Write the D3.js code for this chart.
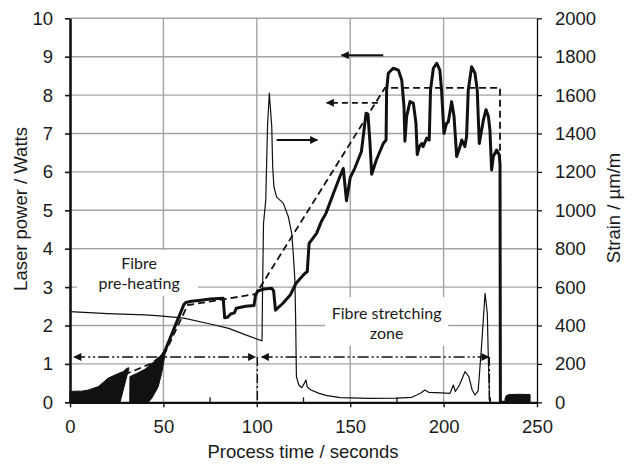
<!DOCTYPE html>
<html>
<head>
<meta charset="utf-8">
<script src="https://cdn.jsdelivr.net/npm/d3@7"></script>
<style>
  html, body { margin: 0; padding: 0; background: #fff; }
  svg { display: block; }
  .tick text { font-family: "Liberation Sans", Arial, sans-serif; font-size: 18.5px; fill: #1a1a1a; }
  .title { font-family: "Liberation Sans", Arial, sans-serif; font-size: 18.5px; fill: #1a1a1a; }
  .note { font-family: Lato, "Open Sans", sans-serif; font-size: 16px; fill: #1a1a1a; }
</style>
</head>
<body>
<div id="chart"></div>
<script>
// thin trace, read on the right axis (strain, µm/m)
const thinTime = [0, 20, 40, 48, 61, 75, 85, 94.4, 100, 102.8, 103.1, 103.6, 104.8, 105.3, 105.8, 106.7, 108, 108.5, 109.2, 110.6, 114.2, 116.9, 118.7, 119.5, 120.4, 120.8, 121.2, 122.5, 124, 125.5, 126.3, 127, 129, 133, 137, 144.5, 160, 175, 183, 185.6, 188, 190, 192, 196, 203.4, 205.2, 206.3, 208.5, 211.5, 213.5, 215.3, 216.8, 218.5, 220.3, 222.2, 223.4, 224, 224.6, 225];
const thinStrain = [472, 462, 455, 450, 438, 408, 385, 350, 330, 320, 600, 932, 1054, 1260, 1454, 1610, 1436, 1228, 1120, 1070, 1036, 966, 880, 776, 636, 428, 134, 90, 76, 100, 116, 80, 64, 48, 36, 24, 20, 22, 26, 38, 50, 64, 52, 50, 46, 90, 56, 90, 160, 134, 64, 38, 60, 290, 568, 464, 204, 12, 0];

// thick trace, laser power measured (W)
const powerTime = [50.5, 61, 62, 65, 70, 75, 82, 82.8, 84.5, 86, 88, 89, 94, 98.5, 99.3, 100.5, 104, 108, 109, 110, 114, 118, 121, 125.8, 127, 128, 132, 134.5, 137, 141, 144.5, 146.3, 148, 150, 152.5, 156, 158.5, 159.5, 160.5, 161.5, 164, 167.7, 169.2, 169.5, 170.4, 173, 175.8, 177.6, 178.8, 179.3, 180.2, 182, 183.8, 185.2, 185.9, 187, 188.3, 189, 191, 192.3, 193, 194.5, 196.3, 198, 198.9, 200.2, 201.6, 202.5, 204.3, 205.6, 207, 208.8, 209.7, 211.4, 212.3, 213.2, 215, 216.8, 218, 219.1, 221.3, 222.7, 224, 224.8, 225.7, 226.6, 228.4, 229.8, 230.2, 230.4, 232.9];
const powerWatts = [1.3, 2.55, 2.6, 2.63, 2.66, 2.69, 2.71, 2.2, 2.22, 2.3, 2.33, 2.45, 2.5, 2.52, 2.78, 2.9, 2.95, 2.97, 2.9, 2.4, 2.58, 2.8, 3.1, 3.36, 3.4, 4.14, 4.4, 4.7, 4.92, 5.44, 5.88, 6.09, 5.25, 5.85, 6.1, 6.53, 7.53, 7.5, 6.83, 5.94, 6.31, 6.74, 6.83, 8.13, 8.57, 8.7, 8.65, 8.39, 7.7, 6.8, 7.44, 7.83, 7.79, 7.27, 6.45, 6.66, 6.74, 6.66, 6.88, 6.83, 8.13, 8.7, 8.83, 8.65, 8.13, 7.0, 7.27, 7.3, 7.83, 7.44, 6.4, 6.66, 6.83, 6.66, 6.92, 8.13, 8.74, 8.57, 8.13, 6.74, 7.35, 7.62, 7.44, 7.09, 6.05, 6.4, 6.57, 6.44, 6.2, 0, 0];

// noisy parts of the power trace, drawn as envelopes (W)
const band1Time = [0, 3, 6.2, 9.8, 15.2, 20.5, 25.9, 26.8, 28.5, 30.3, 31.5];
const band1Low = [0, 0, 0, 0, 0, 0, 0, 0, 0.32, 0.66, 0.87];
const band1High = [0.28, 0.29, 0.29, 0.32, 0.41, 0.63, 0.75, 0.77, 0.8, 0.88, 0.9];
const band2Time = [32, 32.1, 35.7, 40.1, 41.9, 43.7, 46.3, 47.3, 49, 50, 51];
const band2Low = [0, 0, 0, 0, 0, 0.1, 0.32, 0.42, 0.75, 1.0, 1.3];
const band2High = [0, 0.67, 0.75, 0.86, 0.93, 1.01, 1.1, 1.14, 1.25, 1.32, 1.33];
const band3Time = [232.9, 233.5, 235, 240, 246.3];
const band3Low = [0, 0, 0, 0, 0];
const band3High = [0.1, 0.17, 0.2, 0.21, 0.2];

// dashed trace, laser power set point (W)
const setTime = [29, 33, 44, 51, 63, 99.5, 168.6, 230.2, 230.2];
const setWatts = [0.72, 0.8, 1.02, 1.3, 2.53, 2.82, 8.19, 8.19, 0];

const xTicks = [0, 50, 100, 150, 200, 250];
const xMinorTicks = [25, 75, 125, 175, 225];
const leftTicks = [0, 1, 2, 3, 4, 5, 6, 7, 8, 9, 10];
const rightTicks = [0, 200, 400, 600, 800, 1000, 1200, 1400, 1600, 1800, 2000];

const zones = [
  {lines: ["Fibre", "pre-heating"], t: 37, v: [3.62, 3.1], box: [3.7, 68.5, 2.77, 3.97]},
  {lines: ["Fibre stretching", "zone"], t: 169.5, v: [2.32, 1.8], box: [136.5, 202.4, 1.47, 2.74]}
];
// dash-dot range arrows [from, to, level], end markers [time, level]
const spanArrows = [[2.2, 99.2, 1.18], [102.6, 224.1, 1.18]];
const spanEnds = [[100.3, 1.18], [224.5, 1.18]];
// series pointers [from, to, level, dashed]
const pointers = [[110.6, 132.4, 6.83, false], [167.7, 145.4, 9.04, false], [164.8, 137.4, 7.8, true]];

const W = 636, H = 464;
const x = d3.scaleLinear().domain([0, 250]).range([70, 537]);
const yL = d3.scaleLinear().domain([0, 10]).range([402.3, 18.3]);
const yR = d3.scaleLinear().domain([0, 2000]).range([402.3, 18.3]);

const svg = d3.select("#chart").append("svg")
  .attr("width", W)
  .attr("height", H);

const defs = svg.append("defs");
defs.append("marker")
  .attr("id", "head")
  .attr("viewBox", "0 0 10 10")
  .attr("refX", 9).attr("refY", 5)
  .attr("markerWidth", 10).attr("markerHeight", 8)
  .attr("markerUnits", "userSpaceOnUse")
  .attr("orient", "auto-start-reverse")
  .append("path")
  .attr("d", "M0,0L10,5L0,10Z")
  .attr("fill", "#111");

// grid
svg.append("g")
  .selectAll("line")
  .data(leftTicks.slice(1))
  .enter().append("line")
  .attr("x1", x(0)).attr("x2", x(250))
  .attr("y1", d => yL(d)).attr("y2", d => yL(d))
  .attr("stroke", "#a3a3a3")
  .attr("stroke-width", 1.4);

svg.append("g")
  .selectAll("line")
  .data(xTicks.slice(1, -1))
  .enter().append("line")
  .attr("x1", d => x(d)).attr("x2", d => x(d))
  .attr("y1", yL(0)).attr("y2", yL(10))
  .attr("stroke", "#a3a3a3")
  .attr("stroke-width", 1.4);

// white boxes behind the zone labels
svg.append("g")
  .selectAll("rect")
  .data(zones)
  .enter().append("rect")
  .attr("x", d => x(d.box[0]))
  .attr("width", d => x(d.box[1]) - x(d.box[0]))
  .attr("y", d => yL(d.box[3]))
  .attr("height", d => yL(d.box[2]) - yL(d.box[3]))
  .attr("fill", "#fff");

// axes
svg.append("g")
  .attr("transform", `translate(${x(0)},0)`)
  .call(d3.axisLeft(yL).tickValues(leftTicks).tickSize(5).tickSizeOuter(0).tickPadding(12))
  .call(g => g.select(".domain").attr("stroke", "#111").attr("stroke-width", 2.6))
  .call(g => g.selectAll(".tick line").attr("stroke", "#111").attr("stroke-width", 1.6));

svg.append("g")
  .attr("transform", `translate(${x(250)},0)`)
  .call(d3.axisRight(yR).tickValues(rightTicks).tickFormat(d3.format("d")).tickSize(5).tickSizeOuter(0).tickPadding(13))
  .call(g => g.select(".domain").attr("stroke", "#111").attr("stroke-width", 1.3))
  .call(g => g.selectAll(".tick line").attr("stroke", "#111").attr("stroke-width", 1.3));

svg.append("g")
  .attr("transform", `translate(0,${yL(0)})`)
  .call(d3.axisBottom(x).tickValues(xTicks).tickSize(5).tickSizeOuter(0).tickPadding(12.5))
  .call(g => g.select(".domain").attr("stroke", "#111").attr("stroke-width", 2.2))
  .call(g => g.selectAll(".tick line").attr("stroke", "#111").attr("stroke-width", 1.4));

svg.append("g")
  .selectAll("line")
  .data(xMinorTicks)
  .enter().append("line")
  .attr("x1", d => x(d)).attr("x2", d => x(d))
  .attr("y1", yL(0)).attr("y2", yL(0) - 5)
  .attr("stroke", "#111")
  .attr("stroke-width", 1.3);

// data
const plot = svg.append("g");

const area = d3.area()
  .x(d => x(d[0]))
  .y0(d => yL(d[1]))
  .y1(d => yL(d[2]));

[[band1Time, band1Low, band1High], [band2Time, band2Low, band2High], [band3Time, band3Low, band3High]]
  .forEach(([t, lo, hi]) => {
    plot.append("path")
      .datum(t.map((d, i) => [d, lo[i], hi[i]]))
      .attr("d", area)
      .attr("fill", "#111")
      .attr("stroke", "#111")
      .attr("stroke-width", 1);
  });

const lineL = d3.line().x(d => x(d[0])).y(d => yL(d[1]));
const lineR = d3.line().x(d => x(d[0])).y(d => yR(d[1]));

plot.append("path")
  .datum(thinTime.map((d, i) => [d, thinStrain[i]]))
  .attr("d", lineR)
  .attr("fill", "none")
  .attr("stroke", "#111")
  .attr("stroke-width", 1.2)
  .attr("stroke-linejoin", "round");

plot.append("path")
  .datum(setTime.map((d, i) => [d, setWatts[i]]))
  .attr("d", lineL)
  .attr("fill", "none")
  .attr("stroke", "#111")
  .attr("stroke-width", 1.8)
  .attr("stroke-dasharray", "7,4");

plot.append("path")
  .datum(powerTime.map((d, i) => [d, powerWatts[i]]))
  .attr("d", lineL)
  .attr("fill", "none")
  .attr("stroke", "#111")
  .attr("stroke-width", 3)
  .attr("stroke-linejoin", "round");

// range arrows
svg.append("g")
  .selectAll("line")
  .data(spanArrows)
  .enter().append("line")
  .attr("x1", d => x(d[0])).attr("x2", d => x(d[1]))
  .attr("y1", d => yL(d[2])).attr("y2", d => yL(d[2]))
  .attr("stroke", "#111")
  .attr("stroke-width", 1.6)
  .attr("stroke-dasharray", "11,3,2,3,2,3")
  .attr("marker-start", "url(#head)")
  .attr("marker-end", "url(#head)");

svg.append("g")
  .selectAll("line")
  .data(spanEnds)
  .enter().append("line")
  .attr("x1", d => x(d[0])).attr("x2", d => x(d[0]))
  .attr("y1", d => yL(d[1])).attr("y2", yL(0))
  .attr("stroke", "#111")
  .attr("stroke-width", 1.4)
  .attr("stroke-dasharray", "9,3,2,3");

svg.append("g")
  .selectAll("line")
  .data(pointers)
  .enter().append("line")
  .attr("x1", d => x(d[0])).attr("x2", d => x(d[1]))
  .attr("y1", d => yL(d[2])).attr("y2", d => yL(d[2]))
  .attr("stroke", "#111")
  .attr("stroke-width", d => d[3] ? 1.8 : 2)
  .attr("stroke-dasharray", d => d[3] ? "6,4" : null)
  .attr("marker-end", "url(#head)");

// zone labels
const zg = svg.append("g")
  .selectAll("g")
  .data(zones)
  .enter().append("g");

zg.selectAll("text")
  .data(d => d.lines.map((s, i) => ({s: s, t: d.t, v: d.v[i]})))
  .enter().append("text")
  .attr("class", "note")
  .attr("x", d => x(d.t))
  .attr("y", d => yL(d.v))
  .attr("dy", "0.35em")
  .attr("text-anchor", "middle")
  .text(d => d.s);

// titles
svg.append("text")
  .attr("class", "title")
  .attr("x", 303)
  .attr("y", 458)
  .attr("text-anchor", "middle")
  .text("Process time / seconds");

svg.append("text")
  .attr("class", "title")
  .attr("transform", "translate(27,209) rotate(-90)")
  .attr("text-anchor", "middle")
  .text("Laser power / Watts");

svg.append("text")
  .attr("class", "title")
  .attr("transform", "translate(620,208) rotate(-90)")
  .attr("text-anchor", "middle")
  .text("Strain / µm/m");
</script>
</body>
</html>
